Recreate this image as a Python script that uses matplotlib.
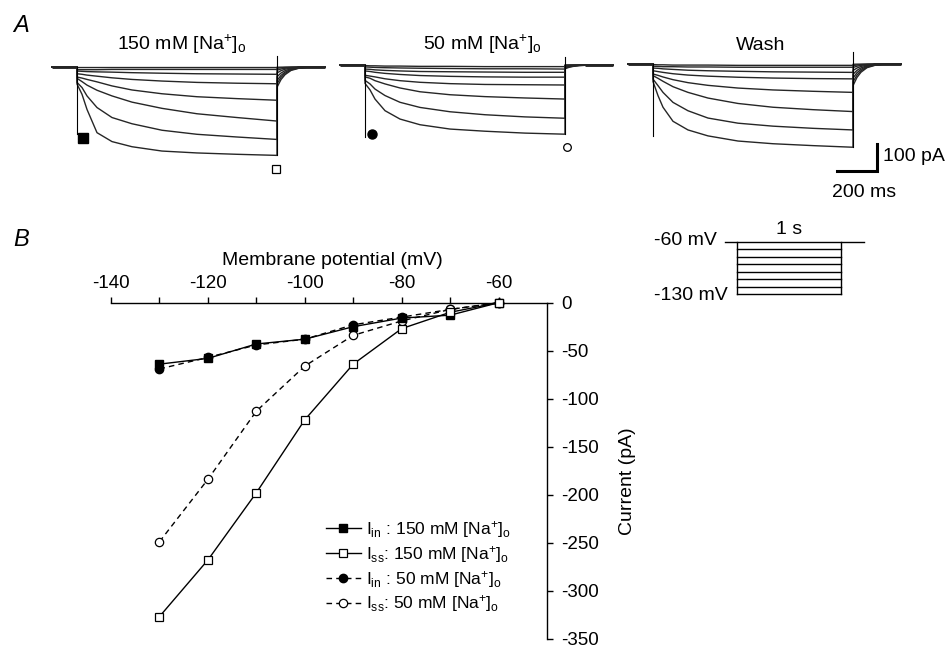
import matplotlib
matplotlib.use('Agg')
import matplotlib.pyplot as plt

plt.rcParams['font.family'] = ['Liberation Sans', 'DejaVu Sans']
plt.rcParams['mathtext.fontset'] = 'custom'
plt.rcParams['mathtext.rm'] = 'Liberation Sans'
plt.rcParams['mathtext.it'] = 'Liberation Sans:italic'
plt.rcParams['axes.unicode_minus'] = False

W, H = 946, 648

# ---- panel B: I-V relation (mV, pA)
volt_mv = [-130, -120, -110, -100, -90, -80, -70, -60]
iin_150 = [-64, -58, -43, -38, -25, -16, -13, 0]
iss_150 = [-327, -268, -198, -122, -64, -27, -10, 0]
iin_50 = [-69, -57, -44, -38, -23, -15, -7, 0]
iss_50 = [-249, -184, -113, -66, -34, -19, -7, 0]

# ---- panel A: current traces (pA), steps -130 ... -60 mV
trace_t = [0, 25, 50, 100, 175, 275, 425, 600, 800, 1000]
traces_150 = [
    [-63, -101, -157, -243, -276, -295, -311, -318, -323, -327],
    [-57, -76, -107, -150, -187, -210, -234, -249, -259, -268],
    [-42, -54, -67, -86, -107, -130, -153, -173, -187, -200],
    [-37, -41, -46, -55, -70, -85, -99, -110, -117, -123],
    [-25, -27, -30, -34, -40, -46, -52, -57, -60, -62],
    [-15, -16, -17, -18, -19, -21, -23, -25, -26, -27],
    [-10, -10, -10, -10, -9, -9, -9, -9, -9, -9],
    [-2, -2, -2, -2, -2, -2, -2, -2, -2, -2],
]
traces_50 = [
    [-68, -92, -126, -169, -200, -221, -237, -245, -252, -256],
    [-57, -70, -89, -113, -138, -157, -173, -184, -192, -197],
    [-44, -49, -58, -70, -85, -99, -110, -117, -122, -126],
    [-38, -41, -44, -51, -58, -64, -69, -72, -73, -74],
    [-22, -24, -27, -31, -35, -39, -42, -44, -45, -45],
    [-15, -16, -18, -20, -22, -24, -25, -26, -27, -27],
    [-7, -8, -9, -10, -11, -12, -13, -14, -14, -15],
    [-2, -3, -3, -4, -4, -5, -5, -6, -6, -6],
]
traces_wash = [
    [-65, -117, -160, -212, -244, -266, -285, -295, -302, -308],
    [-56, -80, -105, -142, -173, -200, -219, -230, -238, -244],
    [-43, -53, -64, -84, -105, -126, -146, -160, -169, -176],
    [-37, -42, -48, -58, -69, -79, -89, -96, -101, -105],
    [-25, -28, -31, -36, -41, -45, -49, -52, -54, -55],
    [-15, -16, -18, -20, -23, -25, -27, -29, -30, -31],
    [-8, -9, -10, -10, -11, -11, -12, -12, -12, -12],
    [-2, -3, -3, -4, -4, -4, -5, -5, -5, -5],
]
tail_t = [0, 20, 40, 70, 110, 160]
tail_frac = [1.0, 0.62, 0.38, 0.17, 0.06, 0.0]
tails_150 = [-75, -62, -50, -36, -22, -12, -5, -1]
tails_50 = [-14, -11, -8, -6, -4, -2, -1, 0]
tails_wash = [-80, -66, -52, -38, -24, -13, -6, -1]
cap_on = [-249, -267, -265]
cap_off = [41, 28, 43]
panel_titles = ['150 mM [Na$^{+}$]$_{\\mathrm{o}}$', '50 mM [Na$^{+}$]$_{\\mathrm{o}}$', 'Wash']

# ---- voltage protocol
protocol_mv = [-60, -70, -80, -90, -100, -110, -120, -130]

fig = plt.figure(figsize=(W / 100, H / 100), dpi=100)


def px_axes(left, top, width, height):
    ax = fig.add_axes([left / W, 1 - (top + height) / H, width / W, height / H])
    return ax


# ---------------- panel A
onsets = [77, 365, 653]
bases = [67, 65, 64]
all_traces = [traces_150, traces_50, traces_wash]
all_tails = [tails_150, tails_50, tails_wash]
ms_px, pa_px = 5.0, 3.7
axes_a = []
for k in range(3):
    ax = px_axes(onsets[k] - 150 / ms_px, bases[k] - 80 / pa_px, 1400 / ms_px, 560 / pa_px)
    ax.set_xlim(-150, 1250)
    ax.set_ylim(-480, 80)
    ax.axis('off')
    # thick noisy-looking baseline before and after the step
    ax.plot([-125, 0], [0, 0], color='#1a1a1a', lw=2.0, solid_capstyle='butt')
    ax.plot([1100, 1240], [0, 0], color='#1a1a1a', lw=2.0, solid_capstyle='butt')
    for tr, tail in zip(all_traces[k], all_tails[k]):
        xs = [-125, 0] + trace_t + [1000 + tt for tt in tail_t] + [1240]
        ys = [0, 0] + tr + [tail * f for f in tail_frac] + [0]
        ax.plot(xs, ys, color='#262626', lw=1.0)
    ax.plot([0, 0], [0, cap_on[k]], color='black', lw=0.8)
    ax.plot([1000, 1000], [cap_off[k], all_traces[k][0][-1]], color='black', lw=0.8)
    fig.text((onsets[k] + [105, 117, 108][k]) / W, 1 - 50 / H, panel_titles[k],
             ha='center', va='baseline', fontsize=14)
    axes_a.append(ax)

# measurement markers
axes_a[0].plot(32, cap_on[0] - 12, 's', color='black', ms=6.5, clip_on=False)
axes_a[0].plot(993, traces_150[0][-1] - 52, 's', mfc='white', mec='black', mew=0.9, ms=5.5, clip_on=False)
axes_a[1].plot(35, cap_on[1] + 10, 'o', color='black', ms=6.5, clip_on=False)
axes_a[1].plot(1008, traces_50[0][-1] - 48, 'o', mfc='white', mec='black', mew=0.9, ms=5.5, clip_on=False)

# scale bar
axw = axes_a[2]
axw.plot([920, 1120, 1120], [-396, -396, -296], color='black', lw=2.2,
         solid_joinstyle='miter', clip_on=False)
axw.text(1150, -342, '100 pA', ha='left', va='center', fontsize=14)
axw.text(1055, -475, '200 ms', ha='center', va='center', fontsize=14)

fig.text(21 / W, 1 - 25 / H, 'A', ha='center', va='center', fontsize=17, style='italic')
fig.text(21 / W, 1 - 240 / H, 'B', ha='center', va='center', fontsize=17, style='italic')

# ---------------- panel B
axb = px_axes(111, 302.7, 436, 336)
axb.set_xlim(-140, -50)
axb.set_ylim(-350, 0)
for s in ['left', 'bottom']:
    axb.spines[s].set_visible(False)
for s in ['top', 'right']:
    axb.spines[s].set_linewidth(1.0)
axb.xaxis.tick_top()
axb.yaxis.tick_right()
axb.set_xticks(range(-140, -50, 10))
axb.set_xticklabels([str(v) if v % 20 == 0 else '' for v in range(-140, -50, 10)])
axb.set_yticks(range(-350, 1, 50))
axb.tick_params(direction='out', length=4, width=1.0, labelsize=13.5)
axb.tick_params(axis='x', pad=4)
axb.tick_params(axis='y', pad=6)
axb.set_xlabel('Membrane potential (mV)', fontsize=14)
axb.xaxis.set_label_position('top')
axb.xaxis.set_label_coords(0.507, 1.112)
axb.set_ylabel('Current (pA)', fontsize=14, rotation=90)
axb.yaxis.set_label_position('right')
axb.yaxis.set_label_coords(1.165, 0.47)

kw = dict(lw=1.0, color='black', clip_on=False)
axb.plot(volt_mv, iin_50, '--', marker='o', ms=6, mfc='black', mec='black', dashes=(4, 3),
         label='I$_{\\mathrm{in}}$ : 50 mM [Na$^{+}$]$_{\\mathrm{o}}$', zorder=3, **kw)
axb.plot(volt_mv, iss_50, '--', marker='o', ms=6, mfc='white', mec='black', mew=0.9, dashes=(4, 3),
         label='I$_{\\mathrm{ss}}$: 50 mM [Na$^{+}$]$_{\\mathrm{o}}$', zorder=3, **kw)
axb.plot(volt_mv, iin_150, '-', marker='s', ms=5.5, mfc='black', mec='black',
         label='I$_{\\mathrm{in}}$ : 150 mM [Na$^{+}$]$_{\\mathrm{o}}$', zorder=4, **kw)
axb.plot(volt_mv, iss_150, '-', marker='s', ms=5.5, mfc='white', mec='black', mew=0.9,
         label='I$_{\\mathrm{ss}}$: 150 mM [Na$^{+}$]$_{\\mathrm{o}}$', zorder=4, **kw)

h, l = axb.get_legend_handles_labels()
order = [2, 3, 0, 1]
fig.legend([h[i] for i in order], [l[i] for i in order], loc='upper left',
           bbox_to_anchor=(326 / W, 1 - 519 / H), frameon=False, fontsize=12.5,
           handlelength=2.0, handletextpad=0.3, labelspacing=0.22,
           borderpad=0, borderaxespad=0)

# ---------------- voltage protocol inset
t_px, v_px = 0.104, 0.747
axp = px_axes(737.3 - 400 * t_px, 241.7 - 15 * v_px, 1900 * t_px, 100 * v_px)
axp.set_xlim(-400, 1500)
axp.set_ylim(-145, -45)
axp.axis('off')
axp.plot([-118, 1218], [protocol_mv[0], protocol_mv[0]], color='black', lw=1.0)
for v in protocol_mv[1:]:
    axp.plot([0, 1000], [v, v], color='black', lw=1.0)
axp.plot([0, 0], [protocol_mv[0], protocol_mv[-1]], color='black', lw=1.0)
axp.plot([1000, 1000], [protocol_mv[0], protocol_mv[-1]], color='black', lw=1.0)
axp.text(500, -43, '1 s', ha='center', va='center', fontsize=14)
axp.text(-195, -59, '-60 mV', ha='right', va='center', fontsize=14)
axp.text(-89, -131.5, '-130 mV', ha='right', va='center', fontsize=14)

fig.savefig('out.png', dpi=100)
